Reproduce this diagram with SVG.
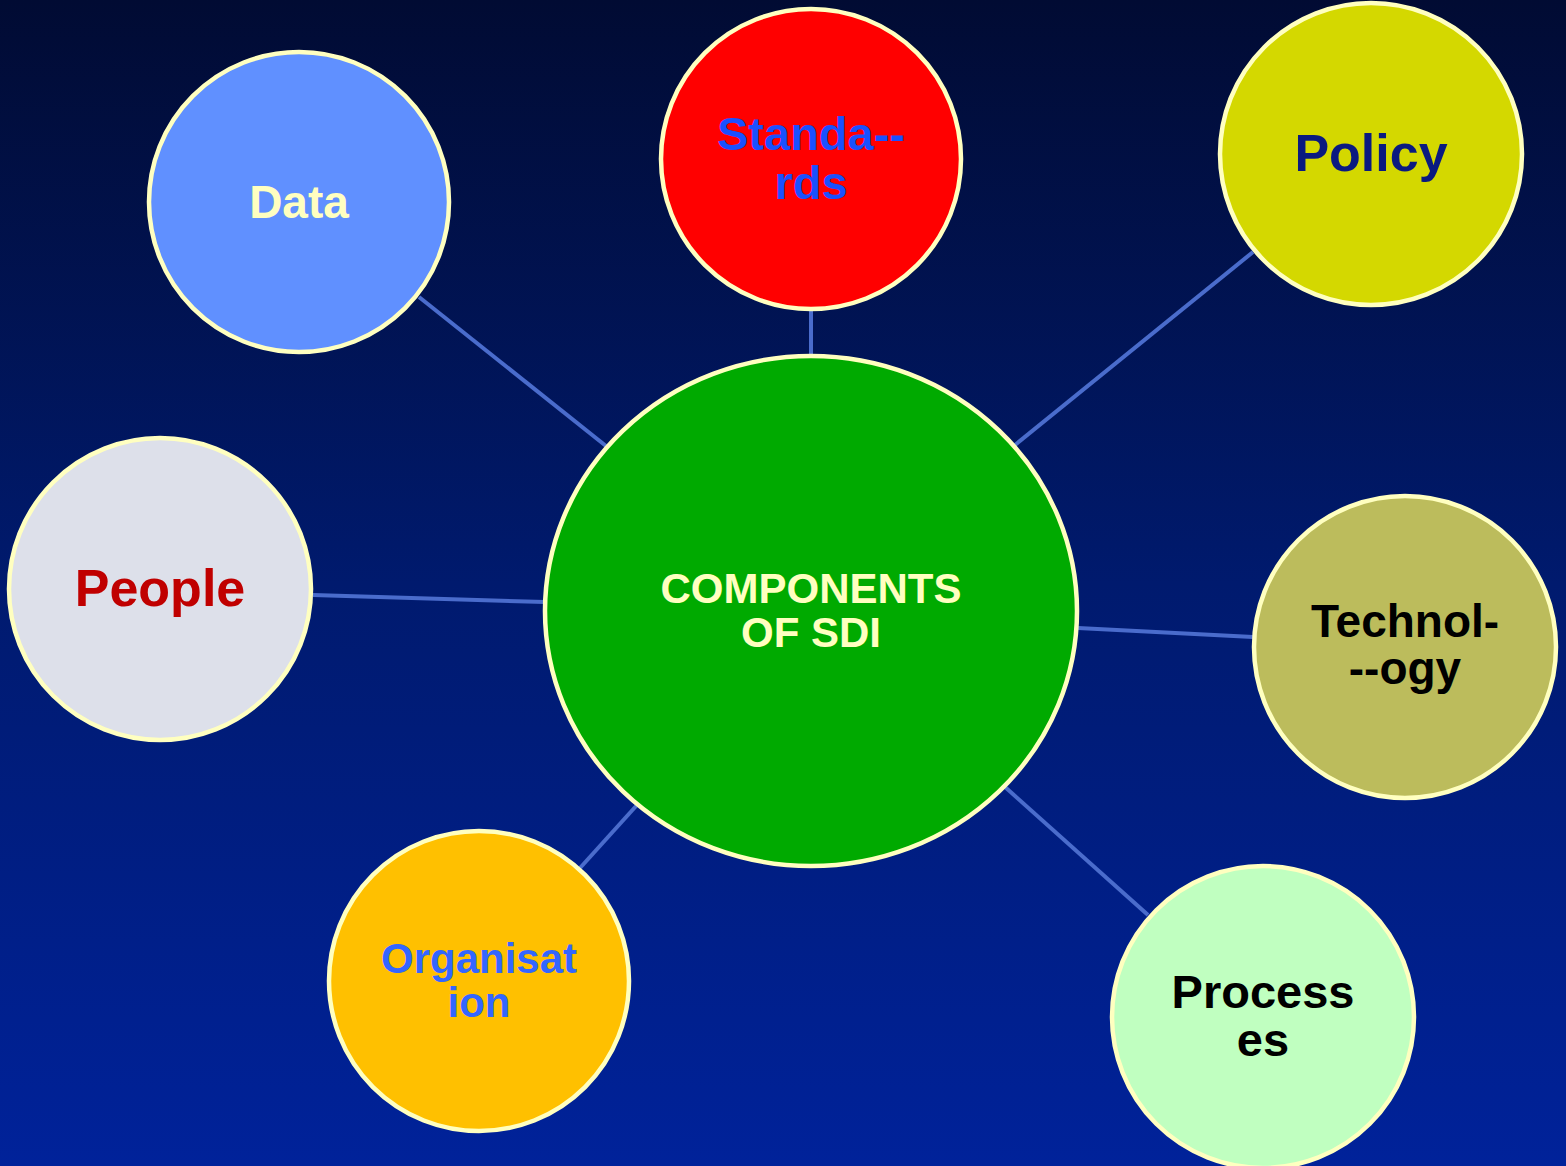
<svg xmlns="http://www.w3.org/2000/svg" width="1566" height="1166" viewBox="0 0 1566 1166">
<defs>
<linearGradient id="bg" x1="0" y1="0" x2="0" y2="1">
<stop offset="0" stop-color="#010b33"/>
<stop offset="0.5" stop-color="#001a6e"/>
<stop offset="1" stop-color="#00229a"/>
</linearGradient>
</defs>
<style>
.n{stroke:#ffffc0;stroke-width:4.5}
.t{font-family:"Liberation Sans",Arial,sans-serif;font-weight:bold;text-anchor:middle}
.c line{stroke:#4a6ccc;stroke-width:4}
</style>
<rect width="1566" height="1166" fill="url(#bg)"/>
<g class="c" id="connectors">
<line x1="419" y1="297" x2="606" y2="446"/>
<line x1="811" y1="310" x2="811" y2="355"/>
<line x1="1253" y1="252" x2="1015" y2="445"/>
<line x1="313" y1="595" x2="545" y2="602"/>
<line x1="1078" y1="628" x2="1253" y2="637"/>
<line x1="580" y1="868" x2="637" y2="805"/>
<line x1="1005" y1="787" x2="1148" y2="915"/>
</g>
<g id="center">
<ellipse class="n" cx="811" cy="611" rx="266" ry="255" fill="#00aa00"/>
<text class="t" x="811" y="603" font-size="42" fill="#ffffc0">COMPONENTS</text>
<text class="t" x="811" y="647" font-size="42" fill="#ffffc0">OF SDI</text>
</g>
<g id="data">
<circle class="n" cx="299" cy="202" r="150" fill="#6090ff"/>
<text class="t" x="299" y="218" font-size="46" fill="#ffffc0">Data</text>
</g>
<g id="standards">
<circle class="n" cx="811" cy="159" r="150" fill="#ff0000"/>
<text class="t" x="811" y="150" font-size="47" fill="#1a50ff">Standa--</text>
<text class="t" x="811" y="199" font-size="47" fill="#1a50ff">rds</text>
</g>
<g id="policy">
<circle class="n" cx="1371" cy="154" r="151" fill="#d4d800"/>
<text class="t" x="1371" y="171" font-size="52" fill="#0a1a80">Policy</text>
</g>
<g id="people">
<circle class="n" cx="160" cy="589" r="151" fill="#dde0ea"/>
<text class="t" x="160" y="606" font-size="52" fill="#c00000">People</text>
</g>
<g id="technology">
<circle class="n" cx="1405" cy="647" r="151" fill="#bcbc5c"/>
<text class="t" x="1405" y="637" font-size="46" fill="#000000">Technol-</text>
<text class="t" x="1405" y="684" font-size="46" fill="#000000">--ogy</text>
</g>
<g id="organisation">
<circle class="n" cx="479" cy="981" r="150" fill="#ffc000"/>
<text class="t" x="479" y="973" font-size="42" fill="#3366ff">Organisat</text>
<text class="t" x="479" y="1017" font-size="42" fill="#3366ff">ion</text>
</g>
<g id="processes">
<circle class="n" cx="1263" cy="1017" r="151" fill="#c0ffc0"/>
<text class="t" x="1263" y="1008" font-size="47" fill="#000000">Process</text>
<text class="t" x="1263" y="1056" font-size="47" fill="#000000">es</text>
</g>
</svg>
